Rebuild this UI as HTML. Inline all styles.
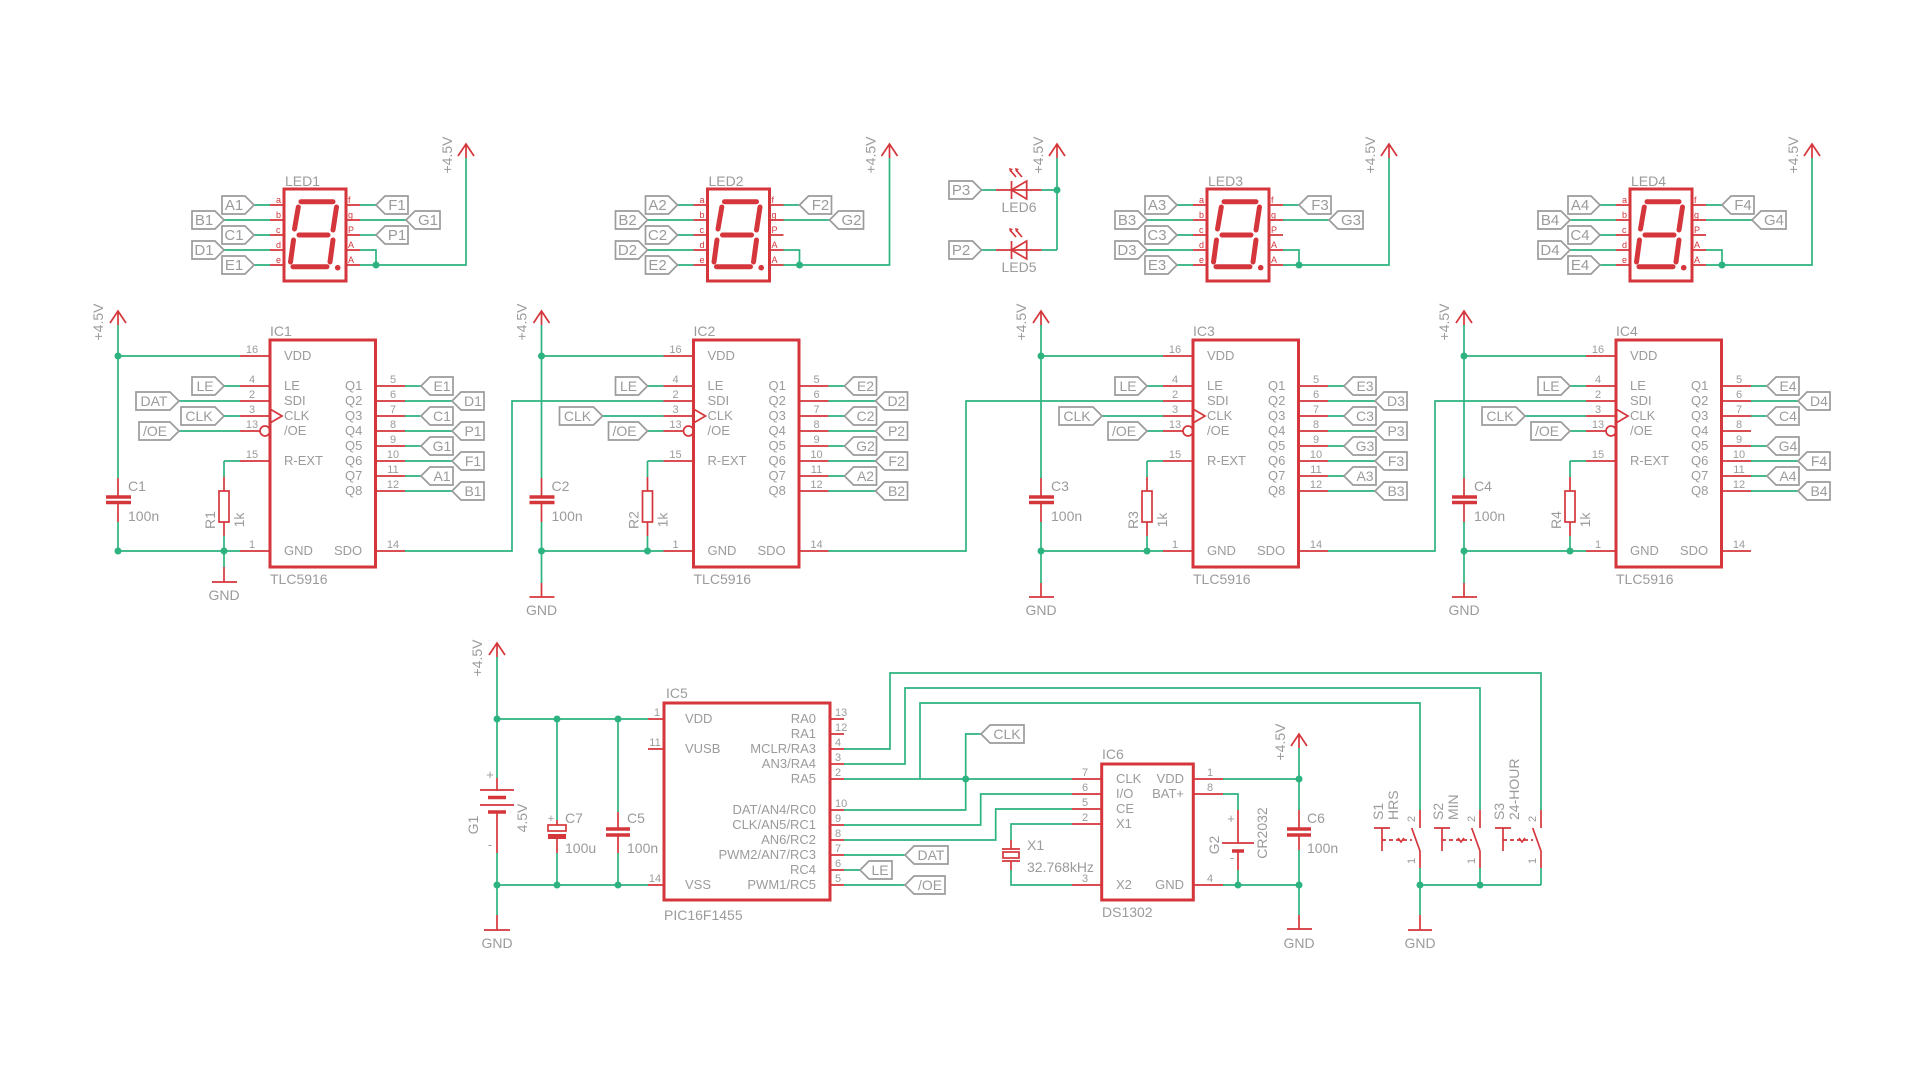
<!DOCTYPE html>
<html><head><meta charset="utf-8"><style>
html,body{margin:0;padding:0;background:#fff;width:1920px;height:1080px;overflow:hidden}
svg{display:block}
.w{stroke:#2db37f;stroke-width:1.7;fill:none}
.r{stroke:#d4363b;stroke-width:1.7;fill:none}
.b{stroke:#d4363b;stroke-width:3;fill:none}
.p{stroke:#d4363b;stroke-width:3.5;fill:none}
.lb{stroke:#9b9b9b;stroke-width:1.7;fill:none}
.n{fill:#2db37f}
.seg{stroke:#d4363b;stroke-width:5;stroke-linecap:round;fill:none}
text{font-family:"Liberation Sans",sans-serif;fill:#9b9b9b}
.t14{font-size:14px}.t15{font-size:15px}.t12{font-size:13px}.t10{font-size:11px}
.rl{font-size:9px;fill:#d4363b}
</style></head><body>
<svg width="1920" height="1080" viewBox="0 0 1920 1080" xmlns="http://www.w3.org/2000/svg">

<defs>
<g id="ledg">
<rect x="284" y="189" width="62" height="92" class="b"/>
<path class="seg" d="M301,201.7H333 M298.3,207L294.5,229 M336.5,207L333,230 M299,235H328 M293.5,240L290.5,262 M333,240L330,262 M293,266.7H327"/>
<circle cx="337.7" cy="267.7" r="2.8" fill="#d4363b"/>
<path class="r" d="M270,205H284M270,220H284M270,235H284M270,250H284M270,265H284M346,205H360M346,220H360M346,235H360M346,250H360M346,265H360"/>
<text class="rl" x="276" y="203">a</text><text class="rl" x="276" y="218">b</text><text class="rl" x="276" y="233">c</text><text class="rl" x="276" y="248">d</text><text class="rl" x="276" y="263">e</text>
<text class="rl" x="348" y="203">f</text><text class="rl" x="348" y="218">g</text><text class="rl" x="348" y="233">P</text><text class="rl" x="348" y="248">A</text><text class="rl" x="348" y="263">A</text>
<path class="w" d="M254,205H270M224,220H270M254,235H270M224,250H270M254,265H270M360,205H376M360,220H406M360,250H376V265M360,265H466V158"/>
<circle class="n" cx="376" cy="265" r="3.5"/>
<path class="r" d="M458,156L466,144L474,156M466,144V158"/>
</g>
<g id="icg">
<path class="r" d="M110,323L118,311L126,323M118,311V325"/>
<path class="w" d="M118,325V478M118,522V551M118,356H240M118,551H240M224,461V477M224,536V551M224,461H240"/>
<path class="r" d="M118,478V497M118,502V522M224,477V491M224,522V536"/>
<path class="p" d="M106,497H131M106,502.5H131"/>
<rect x="219" y="491" width="10" height="31" class="r"/>
<circle class="n" cx="118" cy="356" r="3.5"/><circle class="n" cx="118" cy="551" r="3.5"/><circle class="n" cx="224" cy="551" r="3.5"/>
<path class="r" d="M240,356H270M240,386H270M240,401H270M240,416H270M240,431H260M240,461H270M240,551H270M375,386H405M375,401H405M375,416H405M375,431H405M375,446H405M375,461H405M375,476H405M375,491H405M375,551H405"/>
<circle cx="265" cy="431" r="5" class="r"/>
<path class="r" d="M270,409L282,416L270,423"/>
<rect x="270" y="340" width="105.5" height="227" class="b"/>
<path class="w" d="M224,386H240M405,386H421M405,401H452M405,416H421M405,446H421M405,461H452M405,476H421M405,491H452"/>
</g>
<g id="gnd2">
<path class="w" d="M118,551V583"/><path class="r" d="M118,583V597"/><path class="r" d="M106,597H131"/>
</g>
</defs>

<!-- BLOCK 1 -->
<use href="#ledg"/>
<use href="#icg"/>
<text class="t14" x="285" y="186">LED1</text>
<text class="t14" x="452" y="155" text-anchor="middle" transform="rotate(-90 452 155)">+4.5V</text>
<text class="t14" x="103" y="322" text-anchor="middle" transform="rotate(-90 103 322)">+4.5V</text>
<path class="w" d="M360,235H376"/>
<polygon class="lb" points="222,196 245,196 254,205 245,214 222,214"/><text class="t15" x="234" y="210" text-anchor="middle">A1</text>
<polygon class="lb" points="192,211 215,211 224,220 215,229 192,229"/><text class="t15" x="204" y="225" text-anchor="middle">B1</text>
<polygon class="lb" points="222,226 245,226 254,235 245,244 222,244"/><text class="t15" x="234" y="240" text-anchor="middle">C1</text>
<polygon class="lb" points="192,241 215,241 224,250 215,259 192,259"/><text class="t15" x="204" y="255" text-anchor="middle">D1</text>
<polygon class="lb" points="222,256 245,256 254,265 245,274 222,274"/><text class="t15" x="234" y="270" text-anchor="middle">E1</text>
<polygon class="lb" points="376,205 385,196 408,196 408,214 385,214"/><text class="t15" x="397" y="210" text-anchor="middle">F1</text>
<polygon class="lb" points="406,220 415,211 440,211 440,229 415,229"/><text class="t15" x="428" y="225" text-anchor="middle">G1</text>
<polygon class="lb" points="376,235 385,226 408,226 408,244 385,244"/><text class="t15" x="397" y="240" text-anchor="middle">P1</text>
<text class="t14" x="270" y="336">IC1</text><text class="t14" x="270" y="584">TLC5916</text>
<text class="t12" x="284" y="360">VDD</text><text class="t12" x="284" y="390">LE</text><text class="t12" x="284" y="405">SDI</text><text class="t12" x="284" y="420">CLK</text><text class="t12" x="284" y="435">/OE</text><text class="t12" x="284" y="465">R-EXT</text><text class="t12" x="284" y="555">GND</text><text class="t12" x="334" y="555">SDO</text>
<text class="t12" x="345" y="390">Q1</text><text class="t12" x="345" y="405">Q2</text><text class="t12" x="345" y="420">Q3</text><text class="t12" x="345" y="435">Q4</text><text class="t12" x="345" y="450">Q5</text><text class="t12" x="345" y="465">Q6</text><text class="t12" x="345" y="480">Q7</text><text class="t12" x="345" y="495">Q8</text>
<g class="t10" text-anchor="middle"><text x="252" y="353">16</text><text x="252" y="383">4</text><text x="252" y="398">2</text><text x="252" y="413">3</text><text x="252" y="428">13</text><text x="252" y="458">15</text><text x="252" y="548">1</text>
<text x="393" y="383">5</text><text x="393" y="398">6</text><text x="393" y="413">7</text><text x="393" y="428">8</text><text x="393" y="443">9</text><text x="393" y="458">10</text><text x="393" y="473">11</text><text x="393" y="488">12</text><text x="393" y="548">14</text></g>
<text class="t14" x="128" y="491">C1</text><text class="t14" x="128" y="521">100n</text>
<text class="t14" x="215" y="520" text-anchor="middle" transform="rotate(-90 215 520)">R1</text>
<text class="t14" x="244" y="520" text-anchor="middle" transform="rotate(-90 244 520)">1k</text>
<path class="w" d="M224,551V567M179,401H240M179,431H240"/><path class="r" d="M224,567V582M212,582H237"/>
<text class="t14" x="224" y="600" text-anchor="middle">GND</text>
<polygon class="lb" points="192,377 215,377 224,386 215,395 192,395"/><text class="t14" x="205" y="391" text-anchor="middle">LE</text>
<polygon class="lb" points="136,392 170,392 179,401 170,410 136,410"/><text class="t14" x="154" y="406" text-anchor="middle">DAT</text>
<polygon class="lb" points="181,407 215,407 224,416 215,425 181,425"/><text class="t14" x="199" y="421" text-anchor="middle">CLK</text>
<polygon class="lb" points="139,422 170,422 179,431 170,440 139,440"/><text class="t14" x="155" y="436" text-anchor="middle">/OE</text>
<path class="w" d="M224,416H240M405,431H452"/>
<polygon class="lb" points="421,386 430,377 453,377 453,395 430,395"/><text class="t14" x="442" y="391" text-anchor="middle">E1</text>
<polygon class="lb" points="452,401 461,392 484,392 484,410 461,410"/><text class="t14" x="473" y="406" text-anchor="middle">D1</text>
<polygon class="lb" points="421,416 430,407 453,407 453,425 430,425"/><text class="t14" x="442" y="421" text-anchor="middle">C1</text>
<polygon class="lb" points="452,431 461,422 484,422 484,440 461,440"/><text class="t14" x="473" y="436" text-anchor="middle">P1</text>
<polygon class="lb" points="421,446 430,437 453,437 453,455 430,455"/><text class="t14" x="442" y="451" text-anchor="middle">G1</text>
<polygon class="lb" points="452,461 461,452 484,452 484,470 461,470"/><text class="t14" x="473" y="466" text-anchor="middle">F1</text>
<polygon class="lb" points="421,476 430,467 453,467 453,485 430,485"/><text class="t14" x="442" y="481" text-anchor="middle">A1</text>
<polygon class="lb" points="452,491 461,482 484,482 484,500 461,500"/><text class="t14" x="473" y="496" text-anchor="middle">B1</text>

<!-- BLOCK 2 -->
<g transform="translate(423.5,0)">
<use href="#ledg"/><use href="#icg"/><use href="#gnd2"/>
<path class="w" d="M179,416H240M224,431H240"/>
<polygon class="lb" points="192,377 215,377 224,386 215,395 192,395"/><text class="t14" x="205" y="391" text-anchor="middle">LE</text>
<polygon class="lb" points="136,407 170,407 179,416 170,425 136,425"/><text class="t14" x="154" y="421" text-anchor="middle">CLK</text>
<polygon class="lb" points="185,422 215,422 224,431 215,440 185,440"/><text class="t14" x="201" y="436" text-anchor="middle">/OE</text>
<text class="t14" x="118" y="615" text-anchor="middle">GND</text>
<text class="t14" x="452" y="155" text-anchor="middle" transform="rotate(-90 452 155)">+4.5V</text>
<text class="t14" x="103" y="322" text-anchor="middle" transform="rotate(-90 103 322)">+4.5V</text>
<text class="t14" x="270" y="584">TLC5916</text>
<text class="t12" x="284" y="360">VDD</text><text class="t12" x="284" y="390">LE</text><text class="t12" x="284" y="405">SDI</text><text class="t12" x="284" y="420">CLK</text><text class="t12" x="284" y="435">/OE</text><text class="t12" x="284" y="465">R-EXT</text><text class="t12" x="284" y="555">GND</text><text class="t12" x="334" y="555">SDO</text>
<text class="t12" x="345" y="390">Q1</text><text class="t12" x="345" y="405">Q2</text><text class="t12" x="345" y="420">Q3</text><text class="t12" x="345" y="435">Q4</text><text class="t12" x="345" y="450">Q5</text><text class="t12" x="345" y="465">Q6</text><text class="t12" x="345" y="480">Q7</text><text class="t12" x="345" y="495">Q8</text>
<g class="t10" text-anchor="middle"><text x="252" y="353">16</text><text x="252" y="383">4</text><text x="252" y="398">2</text><text x="252" y="413">3</text><text x="252" y="428">13</text><text x="252" y="458">15</text><text x="252" y="548">1</text>
<text x="393" y="383">5</text><text x="393" y="398">6</text><text x="393" y="413">7</text><text x="393" y="428">8</text><text x="393" y="443">9</text><text x="393" y="458">10</text><text x="393" y="473">11</text><text x="393" y="488">12</text><text x="393" y="548">14</text></g>
<text class="t14" x="128" y="521">100n</text>
<text class="t14" x="244" y="520" text-anchor="middle" transform="rotate(-90 244 520)">1k</text>
<text class="t14" x="285" y="186">LED2</text><text class="t14" x="270" y="336">IC2</text><text class="t14" x="128" y="491">C2</text>
<text class="t14" x="215" y="520" text-anchor="middle" transform="rotate(-90 215 520)">R2</text>
<polygon class="lb" points="222,196 245,196 254,205 245,214 222,214"/><text class="t15" x="234" y="210" text-anchor="middle">A2</text>
<polygon class="lb" points="192,211 215,211 224,220 215,229 192,229"/><text class="t15" x="204" y="225" text-anchor="middle">B2</text>
<polygon class="lb" points="222,226 245,226 254,235 245,244 222,244"/><text class="t15" x="234" y="240" text-anchor="middle">C2</text>
<polygon class="lb" points="192,241 215,241 224,250 215,259 192,259"/><text class="t15" x="204" y="255" text-anchor="middle">D2</text>
<polygon class="lb" points="222,256 245,256 254,265 245,274 222,274"/><text class="t15" x="234" y="270" text-anchor="middle">E2</text>
<polygon class="lb" points="376,205 385,196 408,196 408,214 385,214"/><text class="t15" x="397" y="210" text-anchor="middle">F2</text>
<polygon class="lb" points="406,220 415,211 440,211 440,229 415,229"/><text class="t15" x="428" y="225" text-anchor="middle">G2</text>
<path class="w" d="M405,431H452"/>
<polygon class="lb" points="421,386 430,377 453,377 453,395 430,395"/><text class="t14" x="442" y="391" text-anchor="middle">E2</text>
<polygon class="lb" points="452,401 461,392 484,392 484,410 461,410"/><text class="t14" x="473" y="406" text-anchor="middle">D2</text>
<polygon class="lb" points="421,416 430,407 453,407 453,425 430,425"/><text class="t14" x="442" y="421" text-anchor="middle">C2</text>
<polygon class="lb" points="452,431 461,422 484,422 484,440 461,440"/><text class="t14" x="473" y="436" text-anchor="middle">P2</text>
<polygon class="lb" points="421,446 430,437 453,437 453,455 430,455"/><text class="t14" x="442" y="451" text-anchor="middle">G2</text>
<polygon class="lb" points="452,461 461,452 484,452 484,470 461,470"/><text class="t14" x="473" y="466" text-anchor="middle">F2</text>
<polygon class="lb" points="421,476 430,467 453,467 453,485 430,485"/><text class="t14" x="442" y="481" text-anchor="middle">A2</text>
<polygon class="lb" points="452,491 461,482 484,482 484,500 461,500"/><text class="t14" x="473" y="496" text-anchor="middle">B2</text>
</g>

<!-- BLOCK 3 -->
<g transform="translate(923,0)">
<use href="#ledg"/><use href="#icg"/><use href="#gnd2"/>
<path class="w" d="M179,416H240M224,431H240"/>
<polygon class="lb" points="192,377 215,377 224,386 215,395 192,395"/><text class="t14" x="205" y="391" text-anchor="middle">LE</text>
<polygon class="lb" points="136,407 170,407 179,416 170,425 136,425"/><text class="t14" x="154" y="421" text-anchor="middle">CLK</text>
<polygon class="lb" points="185,422 215,422 224,431 215,440 185,440"/><text class="t14" x="201" y="436" text-anchor="middle">/OE</text>
<text class="t14" x="118" y="615" text-anchor="middle">GND</text>
<text class="t14" x="452" y="155" text-anchor="middle" transform="rotate(-90 452 155)">+4.5V</text>
<text class="t14" x="103" y="322" text-anchor="middle" transform="rotate(-90 103 322)">+4.5V</text>
<text class="t14" x="270" y="584">TLC5916</text>
<text class="t12" x="284" y="360">VDD</text><text class="t12" x="284" y="390">LE</text><text class="t12" x="284" y="405">SDI</text><text class="t12" x="284" y="420">CLK</text><text class="t12" x="284" y="435">/OE</text><text class="t12" x="284" y="465">R-EXT</text><text class="t12" x="284" y="555">GND</text><text class="t12" x="334" y="555">SDO</text>
<text class="t12" x="345" y="390">Q1</text><text class="t12" x="345" y="405">Q2</text><text class="t12" x="345" y="420">Q3</text><text class="t12" x="345" y="435">Q4</text><text class="t12" x="345" y="450">Q5</text><text class="t12" x="345" y="465">Q6</text><text class="t12" x="345" y="480">Q7</text><text class="t12" x="345" y="495">Q8</text>
<g class="t10" text-anchor="middle"><text x="252" y="353">16</text><text x="252" y="383">4</text><text x="252" y="398">2</text><text x="252" y="413">3</text><text x="252" y="428">13</text><text x="252" y="458">15</text><text x="252" y="548">1</text>
<text x="393" y="383">5</text><text x="393" y="398">6</text><text x="393" y="413">7</text><text x="393" y="428">8</text><text x="393" y="443">9</text><text x="393" y="458">10</text><text x="393" y="473">11</text><text x="393" y="488">12</text><text x="393" y="548">14</text></g>
<text class="t14" x="128" y="521">100n</text>
<text class="t14" x="244" y="520" text-anchor="middle" transform="rotate(-90 244 520)">1k</text>
<text class="t14" x="285" y="186">LED3</text><text class="t14" x="270" y="336">IC3</text><text class="t14" x="128" y="491">C3</text>
<text class="t14" x="215" y="520" text-anchor="middle" transform="rotate(-90 215 520)">R3</text>
<polygon class="lb" points="222,196 245,196 254,205 245,214 222,214"/><text class="t15" x="234" y="210" text-anchor="middle">A3</text>
<polygon class="lb" points="192,211 215,211 224,220 215,229 192,229"/><text class="t15" x="204" y="225" text-anchor="middle">B3</text>
<polygon class="lb" points="222,226 245,226 254,235 245,244 222,244"/><text class="t15" x="234" y="240" text-anchor="middle">C3</text>
<polygon class="lb" points="192,241 215,241 224,250 215,259 192,259"/><text class="t15" x="204" y="255" text-anchor="middle">D3</text>
<polygon class="lb" points="222,256 245,256 254,265 245,274 222,274"/><text class="t15" x="234" y="270" text-anchor="middle">E3</text>
<polygon class="lb" points="376,205 385,196 408,196 408,214 385,214"/><text class="t15" x="397" y="210" text-anchor="middle">F3</text>
<polygon class="lb" points="406,220 415,211 440,211 440,229 415,229"/><text class="t15" x="428" y="225" text-anchor="middle">G3</text>
<path class="w" d="M405,431H452"/>
<polygon class="lb" points="421,386 430,377 453,377 453,395 430,395"/><text class="t14" x="442" y="391" text-anchor="middle">E3</text>
<polygon class="lb" points="452,401 461,392 484,392 484,410 461,410"/><text class="t14" x="473" y="406" text-anchor="middle">D3</text>
<polygon class="lb" points="421,416 430,407 453,407 453,425 430,425"/><text class="t14" x="442" y="421" text-anchor="middle">C3</text>
<polygon class="lb" points="452,431 461,422 484,422 484,440 461,440"/><text class="t14" x="473" y="436" text-anchor="middle">P3</text>
<polygon class="lb" points="421,446 430,437 453,437 453,455 430,455"/><text class="t14" x="442" y="451" text-anchor="middle">G3</text>
<polygon class="lb" points="452,461 461,452 484,452 484,470 461,470"/><text class="t14" x="473" y="466" text-anchor="middle">F3</text>
<polygon class="lb" points="421,476 430,467 453,467 453,485 430,485"/><text class="t14" x="442" y="481" text-anchor="middle">A3</text>
<polygon class="lb" points="452,491 461,482 484,482 484,500 461,500"/><text class="t14" x="473" y="496" text-anchor="middle">B3</text>
</g>

<!-- BLOCK 4 -->
<g transform="translate(1346,0)">
<use href="#ledg"/><use href="#icg"/><use href="#gnd2"/>
<path class="w" d="M179,416H240M224,431H240"/>
<polygon class="lb" points="192,377 215,377 224,386 215,395 192,395"/><text class="t14" x="205" y="391" text-anchor="middle">LE</text>
<polygon class="lb" points="136,407 170,407 179,416 170,425 136,425"/><text class="t14" x="154" y="421" text-anchor="middle">CLK</text>
<polygon class="lb" points="185,422 215,422 224,431 215,440 185,440"/><text class="t14" x="201" y="436" text-anchor="middle">/OE</text>
<text class="t14" x="118" y="615" text-anchor="middle">GND</text>
<text class="t14" x="452" y="155" text-anchor="middle" transform="rotate(-90 452 155)">+4.5V</text>
<text class="t14" x="103" y="322" text-anchor="middle" transform="rotate(-90 103 322)">+4.5V</text>
<text class="t14" x="270" y="584">TLC5916</text>
<text class="t12" x="284" y="360">VDD</text><text class="t12" x="284" y="390">LE</text><text class="t12" x="284" y="405">SDI</text><text class="t12" x="284" y="420">CLK</text><text class="t12" x="284" y="435">/OE</text><text class="t12" x="284" y="465">R-EXT</text><text class="t12" x="284" y="555">GND</text><text class="t12" x="334" y="555">SDO</text>
<text class="t12" x="345" y="390">Q1</text><text class="t12" x="345" y="405">Q2</text><text class="t12" x="345" y="420">Q3</text><text class="t12" x="345" y="435">Q4</text><text class="t12" x="345" y="450">Q5</text><text class="t12" x="345" y="465">Q6</text><text class="t12" x="345" y="480">Q7</text><text class="t12" x="345" y="495">Q8</text>
<g class="t10" text-anchor="middle"><text x="252" y="353">16</text><text x="252" y="383">4</text><text x="252" y="398">2</text><text x="252" y="413">3</text><text x="252" y="428">13</text><text x="252" y="458">15</text><text x="252" y="548">1</text>
<text x="393" y="383">5</text><text x="393" y="398">6</text><text x="393" y="413">7</text><text x="393" y="428">8</text><text x="393" y="443">9</text><text x="393" y="458">10</text><text x="393" y="473">11</text><text x="393" y="488">12</text><text x="393" y="548">14</text></g>
<text class="t14" x="128" y="521">100n</text>
<text class="t14" x="244" y="520" text-anchor="middle" transform="rotate(-90 244 520)">1k</text>
<text class="t14" x="285" y="186">LED4</text><text class="t14" x="270" y="336">IC4</text><text class="t14" x="128" y="491">C4</text>
<text class="t14" x="215" y="520" text-anchor="middle" transform="rotate(-90 215 520)">R4</text>
<polygon class="lb" points="222,196 245,196 254,205 245,214 222,214"/><text class="t15" x="234" y="210" text-anchor="middle">A4</text>
<polygon class="lb" points="192,211 215,211 224,220 215,229 192,229"/><text class="t15" x="204" y="225" text-anchor="middle">B4</text>
<polygon class="lb" points="222,226 245,226 254,235 245,244 222,244"/><text class="t15" x="234" y="240" text-anchor="middle">C4</text>
<polygon class="lb" points="192,241 215,241 224,250 215,259 192,259"/><text class="t15" x="204" y="255" text-anchor="middle">D4</text>
<polygon class="lb" points="222,256 245,256 254,265 245,274 222,274"/><text class="t15" x="234" y="270" text-anchor="middle">E4</text>
<polygon class="lb" points="376,205 385,196 408,196 408,214 385,214"/><text class="t15" x="397" y="210" text-anchor="middle">F4</text>
<polygon class="lb" points="406,220 415,211 440,211 440,229 415,229"/><text class="t15" x="428" y="225" text-anchor="middle">G4</text>
<polygon class="lb" points="421,386 430,377 453,377 453,395 430,395"/><text class="t14" x="442" y="391" text-anchor="middle">E4</text>
<polygon class="lb" points="452,401 461,392 484,392 484,410 461,410"/><text class="t14" x="473" y="406" text-anchor="middle">D4</text>
<polygon class="lb" points="421,416 430,407 453,407 453,425 430,425"/><text class="t14" x="442" y="421" text-anchor="middle">C4</text>
<polygon class="lb" points="421,446 430,437 453,437 453,455 430,455"/><text class="t14" x="442" y="451" text-anchor="middle">G4</text>
<polygon class="lb" points="452,461 461,452 484,452 484,470 461,470"/><text class="t14" x="473" y="466" text-anchor="middle">F4</text>
<polygon class="lb" points="421,476 430,467 453,467 453,485 430,485"/><text class="t14" x="442" y="481" text-anchor="middle">A4</text>
<polygon class="lb" points="452,491 461,482 484,482 484,500 461,500"/><text class="t14" x="473" y="496" text-anchor="middle">B4</text>
</g>

<path class="w" d="M405,551H512V401H663.5M828.5,551H966V401H1163M1328,551H1435V401H1586"/>

<!-- LED6 / LED5 -->
<path class="w" d="M981.5,190H996M1041.5,190H1057M981.5,250H996M1041.5,250H1057M1057,158V250"/>
<path class="r" d="M996,190H1041.5M996,250H1041.5M1011.5,181V199M1011.5,241V259M1049,156L1057,144L1065,156M1057,144V158"/>
<polygon class="r" points="1011.5,190 1026.7,181 1026.7,199"/>
<polygon class="r" points="1011.5,250 1026.7,241 1026.7,259"/>
<path class="r" stroke-width="1.3" d="M1016,177L1010,170M1022,177L1016,170M1016,237L1010,230M1022,237L1016,230"/>
<path fill="#d4363b" d="M1009,168l4,1l-3,3zM1015,168l4,1l-3,3zM1009,228l4,1l-3,3zM1015,228l4,1l-3,3z"/>
<circle class="n" cx="1057" cy="190" r="3.5"/>
<polygon class="lb" points="949,181 972.5,181 981.5,190 972.5,199 949,199"/><text class="t15" x="961" y="195" text-anchor="middle">P3</text>
<polygon class="lb" points="949,241 972.5,241 981.5,250 972.5,259 949,259"/><text class="t15" x="961" y="255" text-anchor="middle">P2</text>
<text class="t14" x="1019" y="212" text-anchor="middle">LED6</text>
<text class="t14" x="1019" y="272" text-anchor="middle">LED5</text>
<text class="t14" x="1043" y="155" text-anchor="middle" transform="rotate(-90 1043 155)">+4.5V</text>

<!-- IC5 power -->
<path class="r" d="M489,655L497,643L505,655M497,643V657"/>
<text class="t14" x="482" y="658" text-anchor="middle" transform="rotate(-90 482 658)">+4.5V</text>
<path class="w" d="M497,657V778M497,853V915M497,719H648M497,885H648M557,719V820M557,853V885M618,719V812M618,853V885"/>
<path class="r" d="M497,778V790M497,812V853M497,915V930M484,930H510M480,790H514M480,805H514M557,820V825M557,838V853M618,812V829M618,835V853"/>
<path class="p" d="M488,797.5H506M488,812H506M606,829H630M606,835H630"/>
<rect x="548" y="825" width="18" height="6" class="r"/><rect x="548" y="834" width="18" height="5" fill="#d4363b"/>
<text class="t12" x="490" y="779" text-anchor="middle">+</text><text class="t12" x="490" y="849" text-anchor="middle">-</text>
<text class="t10" x="551" y="822" text-anchor="middle">+</text>
<text class="t14" x="478" y="825" text-anchor="middle" transform="rotate(-90 478 825)">G1</text>
<text class="t14" x="527" y="818" text-anchor="middle" transform="rotate(-90 527 818)">4.5V</text>
<text class="t14" x="565" y="823">C7</text><text class="t14" x="565" y="853">100u</text>
<text class="t14" x="627" y="823">C5</text><text class="t14" x="627" y="853">100n</text>
<text class="t14" x="497" y="948" text-anchor="middle">GND</text>
<circle class="n" cx="497" cy="719" r="3.5"/><circle class="n" cx="557" cy="719" r="3.5"/><circle class="n" cx="618" cy="719" r="3.5"/>
<circle class="n" cx="497" cy="885" r="3.5"/><circle class="n" cx="557" cy="885" r="3.5"/><circle class="n" cx="618" cy="885" r="3.5"/>

<!-- IC5 -->
<rect x="664" y="703" width="166" height="197" class="b"/>
<path class="r" d="M648,719H664M648,749H664M648,885H664M830,719H844M830,734H844M830,749H844M830,764H844M830,779H844M830,810H844M830,825H844M830,840H844M830,855H844M830,870H844M830,885H844"/>
<text class="t14" x="666" y="698">IC5</text><text class="t14" x="664" y="920">PIC16F1455</text>
<text class="t12" x="685" y="723">VDD</text><text class="t12" x="685" y="753">VUSB</text><text class="t12" x="685" y="889">VSS</text>
<g class="t12" text-anchor="end"><text x="816" y="723">RA0</text><text x="816" y="738">RA1</text><text x="816" y="753">MCLR/RA3</text><text x="816" y="768">AN3/RA4</text><text x="816" y="783">RA5</text><text x="816" y="814">DAT/AN4/RC0</text><text x="816" y="829">CLK/AN5/RC1</text><text x="816" y="844">AN6/RC2</text><text x="816" y="859">PWM2/AN7/RC3</text><text x="816" y="874">RC4</text><text x="816" y="889">PWM1/RC5</text></g>
<g class="t10"><text x="657" y="716" text-anchor="middle">1</text><text x="655" y="746" text-anchor="middle">11</text><text x="655" y="882" text-anchor="middle">14</text>
<text x="835" y="716">13</text><text x="835" y="731">12</text><text x="835" y="746">4</text><text x="835" y="761">3</text><text x="835" y="776">2</text><text x="835" y="807">10</text><text x="835" y="822">9</text><text x="835" y="837">8</text><text x="835" y="852">7</text><text x="835" y="867">6</text><text x="835" y="882">5</text></g>
<path class="w" d="M844,749H890V673H1541V810M844,764H905V688H1480V810M844,779H1072M920,779V703H1420V810M844,810H965.7V734H981M844,825H980.7V794H1072M844,840H995.7V809H1072M844,855H905M844,870H860M844,885H905"/>
<circle class="n" cx="965.7" cy="779" r="3.5"/>
<polygon class="lb" points="981,734 990,725 1024,725 1024,743 990,743"/><text class="t14" x="1007" y="739" text-anchor="middle">CLK</text>
<polygon class="lb" points="905,855 914,846 948,846 948,864 914,864"/><text class="t14" x="931" y="860" text-anchor="middle">DAT</text>
<polygon class="lb" points="860,870 869,861 892,861 892,879 869,879"/><text class="t14" x="880" y="875" text-anchor="middle">LE</text>
<polygon class="lb" points="905,885 914,876 945,876 945,894 914,894"/><text class="t14" x="930" y="890" text-anchor="middle">/OE</text>

<!-- IC6 -->
<rect x="1101.7" y="764" width="91.6" height="136" class="b"/>
<path class="r" d="M1072,779H1101.7M1072,794H1101.7M1072,809H1101.7M1072,824H1101.7M1072,885H1101.7M1193.3,779H1223M1193.3,794H1223M1193.3,885H1223"/>
<text class="t14" x="1102" y="759">IC6</text><text class="t14" x="1102" y="917">DS1302</text>
<text class="t12" x="1116" y="783">CLK</text><text class="t12" x="1116" y="798">I/O</text><text class="t12" x="1116" y="813">CE</text><text class="t12" x="1116" y="828">X1</text><text class="t12" x="1116" y="889">X2</text>
<text class="t12" x="1184" y="783" text-anchor="end">VDD</text><text class="t12" x="1184" y="798" text-anchor="end">BAT+</text><text class="t12" x="1184" y="889" text-anchor="end">GND</text>
<g class="t10" text-anchor="middle"><text x="1085" y="776">7</text><text x="1085" y="791">6</text><text x="1085" y="806">5</text><text x="1085" y="821">2</text><text x="1085" y="882">3</text><text x="1210" y="776">1</text><text x="1210" y="791">8</text><text x="1210" y="882">4</text></g>
<path class="w" d="M1072,824H1011V840M1011,870V885H1072M1223,779H1299M1223,794H1238V810M1238,870V885M1223,885H1299M1299,748V810M1299,850V915"/>
<path class="r" d="M1011,840V849M1011,861V870M1002,849H1020M1002,861H1020M1238,810V843M1238,851V870M1222,843H1254M1299,810V829M1299,835V850M1299,915V929M1287,929H1312M1291,746L1299,734L1307,746M1299,734V748"/>
<rect x="1003" y="852" width="16" height="6" class="r"/>
<path class="p" d="M1232,851H1244M1287,829H1311M1287,835H1311"/>
<circle class="n" cx="1238" cy="885" r="3.5"/><circle class="n" cx="1299" cy="885" r="3.5"/><circle class="n" cx="1299" cy="779" r="3.5"/>
<text class="t14" x="1027" y="850">X1</text><text class="t14" x="1027" y="872">32.768kHz</text>
<text class="t12" x="1231" y="823" text-anchor="middle">+</text><text class="t12" x="1232" y="862" text-anchor="middle">-</text>
<text class="t14" x="1219" y="845" text-anchor="middle" transform="rotate(-90 1219 845)">G2</text>
<text class="t14" x="1267" y="833" text-anchor="middle" transform="rotate(-90 1267 833)">CR2032</text>
<text class="t14" x="1285" y="742" text-anchor="middle" transform="rotate(-90 1285 742)">+4.5V</text>
<text class="t14" x="1307" y="823">C6</text><text class="t14" x="1307" y="853">100n</text>
<text class="t14" x="1299" y="948" text-anchor="middle">GND</text>

<!-- Switches -->
<path class="w" d="M1420,868V915M1480,868V885M1541,868V885M1420,885H1541"/>
<path class="r" d="M1420,915V930M1408,930H1432
M1420,810V828M1411.7,828L1420,851M1420,851V868M1374,828H1390M1382,828V851M1398,838L1401,842L1404,838
M1480,810V828M1471.7,828L1480,851M1480,851V868M1434,828H1450M1442,828V851M1458,838L1461,842L1464,838
M1541,810V828M1532.7,828L1541,851M1541,851V868M1495,828H1511M1503,828V851M1519,838L1522,842L1525,838"/>
<path class="r" stroke-dasharray="4,3" d="M1382,840H1412M1442,840H1472M1503,840H1533"/>
<circle class="n" cx="1420" cy="885" r="3.5"/><circle class="n" cx="1480" cy="885" r="3.5"/>
<text class="t14" x="1420" y="948" text-anchor="middle">GND</text>
<g class="t14">
<text x="1383" y="820" transform="rotate(-90 1383 820)">S1</text><text x="1398" y="820" transform="rotate(-90 1398 820)">HRS</text>
<text x="1443" y="820" transform="rotate(-90 1443 820)">S2</text><text x="1458" y="820" transform="rotate(-90 1458 820)">MIN</text>
<text x="1504" y="820" transform="rotate(-90 1504 820)">S3</text><text x="1519" y="820" transform="rotate(-90 1519 820)">24-HOUR</text>
</g>
<g class="t10">
<text x="1415" y="822" transform="rotate(-90 1415 822)">2</text><text x="1415" y="864" transform="rotate(-90 1415 864)">1</text>
<text x="1475" y="822" transform="rotate(-90 1475 822)">2</text><text x="1475" y="864" transform="rotate(-90 1475 864)">1</text>
<text x="1536" y="822" transform="rotate(-90 1536 822)">2</text><text x="1536" y="864" transform="rotate(-90 1536 864)">1</text>
</g>
</svg>
</body></html>
